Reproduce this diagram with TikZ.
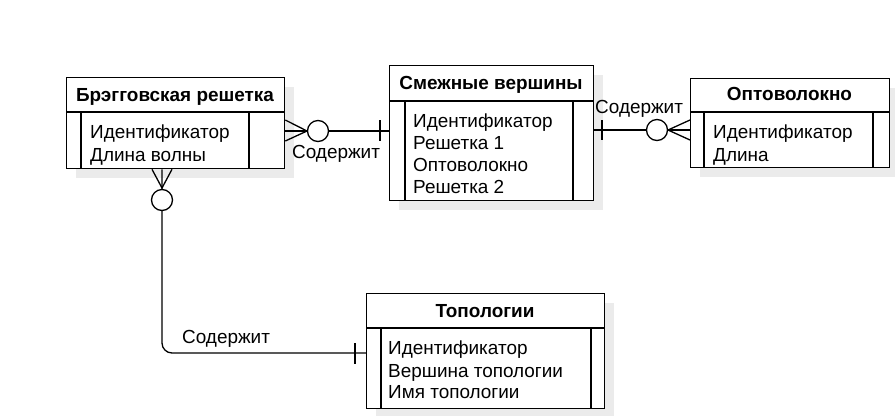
\documentclass[tikz,border=0pt]{standalone}
\usepackage{fontspec}
\setmainfont{Liberation Sans}
\begin{document}
\begin{tikzpicture}[x=1bp,y=-1bp,
  ln/.style={line width=1.3bp, black},
  shadowc/.style={fill=black!8},
  hdr/.style={font=\fontsize{19}{22}\selectfont\bfseries, inner sep=0, anchor=base},
  txt/.style={font=\fontsize{19}{22}\selectfont, inner sep=0, anchor=base west},
  lbl/.style={font=\fontsize{19}{22}\selectfont, inner sep=0, anchor=base west},
  circ/.style={ln, draw, fill=white, circle, minimum size=21bp, inner sep=0}]
\useasboundingbox (0,0) rectangle (895,415);
% shadows
\fill[shadowc] (76,87) rectangle (294,178);
\fill[shadowc] (399,75) rectangle (603,210);
\fill[shadowc] (700,88) rectangle (899,177);
\fill[shadowc] (376,303) rectangle (614,418);
% entity 1
\node[ln, draw, fill=white, anchor=north west, minimum width=218bp, minimum height=91bp, inner sep=0] (e1) at (66,77) {};
\draw[ln] (66,112) -- (284,112) (81,112) -- (81,168) (249,112) -- (249,168);
\node[hdr] (e1h) at (175,101) {Брэгговская решетка};
\node[txt] (e1a) at (90,138) {Идентификатор};
\node[txt] (e1b) at (90,161) {Длина волны};
% entity 2
\node[ln, draw, fill=white, anchor=north west, minimum width=204bp, minimum height=135bp, inner sep=0] (e2) at (389,65) {};
\draw[ln] (389,101) -- (593,101) (405,101) -- (405,200) (573,101) -- (573,200);
\node[hdr] (e2h) at (491,89) {Смежные вершины};
\node[txt] (e2a) at (413,127) {Идентификатор};
\node[txt] (e2b) at (413,149) {Решетка 1};
\node[txt] (e2c) at (413,171) {Оптоволокно};
\node[txt] (e2d) at (413,193) {Решетка 2};
% entity 3
\node[ln, draw, fill=white, anchor=north west, minimum width=199bp, minimum height=89bp, inner sep=0] (e3) at (690,78) {};
\draw[ln] (690,112) -- (889,112) (704,112) -- (704,167) (873,112) -- (873,167);
\node[hdr] (e3h) at (789.5,100) {Оптоволокно};
\node[txt] (e3a) at (713,138) {Идентификатор};
\node[txt] (e3b) at (713,161) {Длина};
% entity 4
\node[ln, draw, fill=white, anchor=north west, minimum width=238bp, minimum height=115bp, inner sep=0] (e4) at (366,293) {};
\draw[ln] (366,328) -- (604,328) (381,328) -- (381,408) (591,328) -- (591,408);
\node[hdr] (e4h) at (485,317) {Топологии};
\node[txt] (e4a) at (388,354) {Идентификатор};
\node[txt] (e4b) at (388,377) {Вершина топологии};
\node[txt] (e4c) at (388,398) {Имя топологии};
% connector e1 - e2
\coordinate (p1) at (e1.east |- 0,131);
\coordinate (p2) at (e2.west |- 0,131);
\draw[ln] (p1) -- (p2);
\draw[ln] ([yshift=11bp]p1) -- (307,131) -- ([yshift=-10bp]p1);
\draw[ln] (380,120) -- (380,141);
\node[circ] (o1) at (318,131) {};
\node[lbl] (l1) at (292,158) {Содержит};
% connector e2 - e3
\coordinate (p3) at (e2.east |- 0,130);
\coordinate (p4) at (e3.west |- 0,130);
\draw[ln] (p3) -- (p4);
\draw[ln] ([yshift=10bp]p4) -- (668,130) -- ([yshift=-10bp]p4);
\draw[ln] (602,120) -- (602,140);
\node[circ] (o2) at (657,130) {};
\node[lbl] (l2) at (595,113) {Содержит};
% connector e1 - e4
\coordinate (p5) at (e1.south -| 162,0);
\coordinate (p6) at (e4.west |- 0,353);
\draw[ln, rounded corners=10bp] (p5) -- (162,353) -- (p6);
\draw[ln] ([xshift=-10bp]p5) -- (162,188) -- ([xshift=10bp]p5);
\draw[ln] (355,343) -- (355,364);
\node[circ] (o3) at (162,200) {};
\node[lbl] (l3) at (182,343) {Содержит};
\end{tikzpicture}
\end{document}
